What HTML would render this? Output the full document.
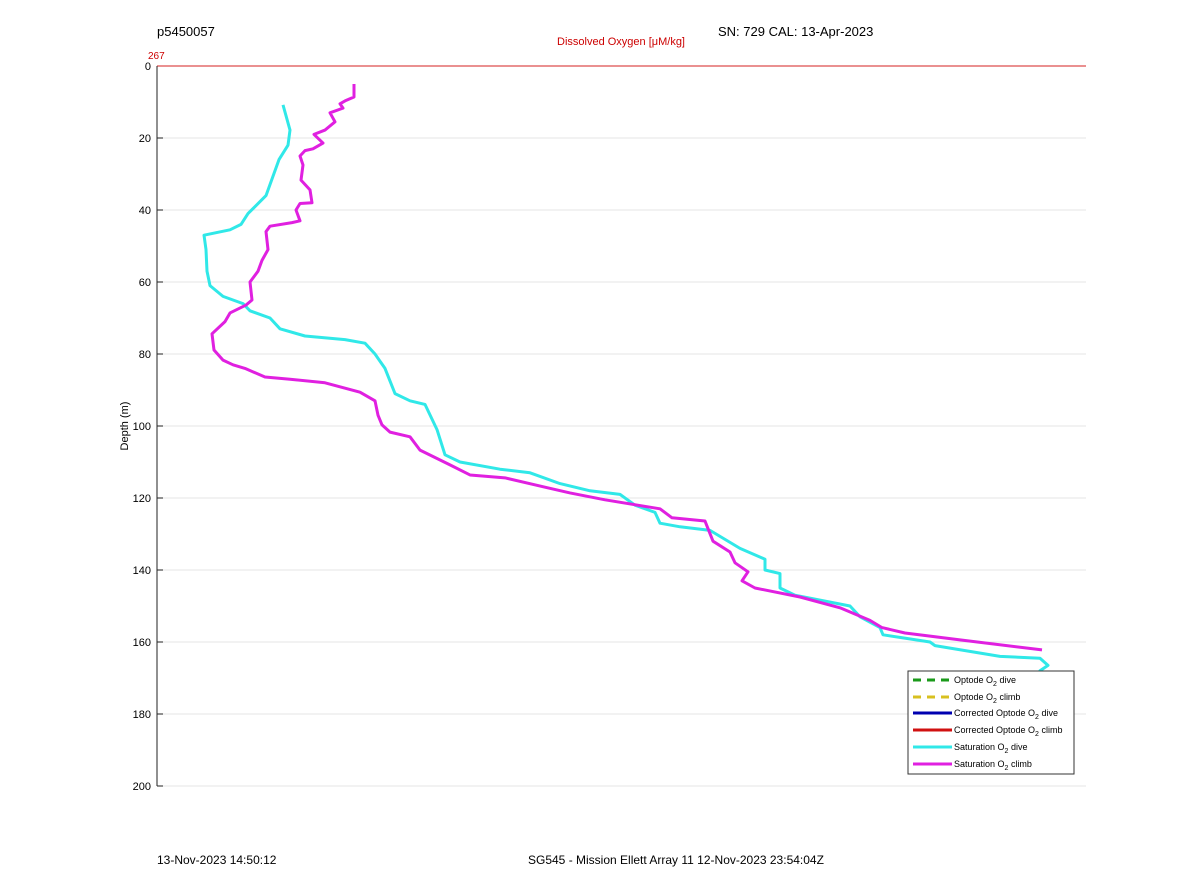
<!DOCTYPE html>
<html><head><meta charset="utf-8"><style>
body{margin:0;background:#fff;font-family:"Liberation Sans",sans-serif}
svg text{font-family:"Liberation Sans",sans-serif}
</style></head><body>
<svg id="chart" width="1200" height="885" viewBox="0 0 1200 885" xmlns="http://www.w3.org/2000/svg">
<rect width="1200" height="885" fill="#fff"/>
<text x="157" y="36" font-size="13">p5450057</text>
<text x="718" y="36" font-size="13">SN: 729  CAL: 13-Apr-2023</text>
<text x="621" y="45" font-size="11" fill="#c00" text-anchor="middle">Dissolved Oxygen [μM/kg]</text>
<text x="148" y="59" font-size="10" fill="#c00">267</text>
<g id="grid"></g>
<g id="yticks"></g>
<text x="128" y="426" font-size="11" text-anchor="middle" transform="rotate(-90 128 426)">Depth (m)</text>
<line x1="157" y1="66" x2="1086" y2="66" stroke="#d62020" stroke-width="1"/>
<line x1="157" y1="66" x2="157" y2="786" stroke="#222" stroke-width="1"/>
<g id="series"></g>
<g>
<rect x="908" y="671" width="166" height="103" fill="#fff" stroke="#333" stroke-width="1"/>
<line x1="913" y1="680" x2="952" y2="680" stroke="#1a9a1a" stroke-width="3" stroke-dasharray="8,6"/>
<text x="954" y="683" font-size="9">Optode O<tspan font-size="7" dy="3">2</tspan><tspan dy="-3"> dive</tspan></text>
<line x1="913" y1="697" x2="952" y2="697" stroke="#d8c020" stroke-width="3" stroke-dasharray="8,6"/>
<text x="954" y="700" font-size="9">Optode O<tspan font-size="7" dy="3">2</tspan><tspan dy="-3"> climb</tspan></text>
<line x1="913" y1="713" x2="952" y2="713" stroke="#0000b0" stroke-width="3"/>
<text x="954" y="716" font-size="9">Corrected Optode O<tspan font-size="7" dy="3">2</tspan><tspan dy="-3"> dive</tspan></text>
<line x1="913" y1="730" x2="952" y2="730" stroke="#d01010" stroke-width="3"/>
<text x="954" y="733" font-size="9">Corrected Optode O<tspan font-size="7" dy="3">2</tspan><tspan dy="-3"> climb</tspan></text>
<line x1="913" y1="747" x2="952" y2="747" stroke="#30e8e8" stroke-width="3"/>
<text x="954" y="750" font-size="9">Saturation O<tspan font-size="7" dy="3">2</tspan><tspan dy="-3"> dive</tspan></text>
<line x1="913" y1="764" x2="952" y2="764" stroke="#e020e0" stroke-width="3"/>
<text x="954" y="767" font-size="9">Saturation O<tspan font-size="7" dy="3">2</tspan><tspan dy="-3"> climb</tspan></text>
</g>
<text x="157" y="864" font-size="12">13-Nov-2023 14:50:12</text>
<text x="528" y="864" font-size="12">SG545 - Mission Ellett Array 11 12-Nov-2023 23:54:04Z</text>
</svg>
<script>
const yTicks=[0,20,40,60,80,100,120,140,160,180,200];
const diveO2=[126,133,131,122,109,91,84,73,47,49,50,53,66,86,93,113,123,148,188,208,218,228,238,253,268,280,288,303,343,373,403,433,463,478,498,503,523,553,583,608,608,623,623,638,693,703,723,726,773,778,843,883,891,883,895,896];
const diveDepth=[10.8,17.8,22,26,36,41,44,45.5,47,51,57,61,64,66,68,70,73,75,76,77,80,84,91,93,94,101,108,110,112,113,116,118,119,122,124,127,128,129,134,137,140,141,145,147,150,153,156,158,160,161,164,164.5,166.5,168,170,174];
const climbO2=[197,197,188,183,186,173,178,168,157,166,156,148,143,146,144,153,155,143,139,143,135,113,109,111,105,101,93,95,89,73,68,55,57,66,76,88,108,133,168,203,218,221,225,233,253,263,293,313,348,388,413,448,503,515,548,556,573,578,591,585,598,643,683,713,725,748,803,885];
const climbDepth=[5,8.6,9.7,10.5,11.7,13,15.5,17.8,19,21.4,23,23.5,25,27.5,31.7,34.4,38,38.2,40,43,43.5,44.5,46,51,54,57,60,65,66.4,68.6,71,74.4,78.9,81.7,83,84,86.4,87,88,90.6,93,97,99.7,101.7,103,106.7,110.8,113.6,114.4,117,118.6,120.5,123,125.5,126.4,132,135,138,140.5,143,145,147.5,150.5,154,156,157.5,159.4,162.2];
const X0=157,X1=1086,Y0=66,Y1=786,XMAX=929,DMAX=200;
const xs=v=>X0+v/XMAX*(X1-X0);
const ys=d=>Y0+d/DMAX*(Y1-Y0);
const NS='http://www.w3.org/2000/svg';
const grid=document.getElementById('grid'),yt=document.getElementById('yticks');
yTicks.forEach(t=>{
 const y=ys(t);
 if(t>0){const l=document.createElementNS(NS,'line');
 l.setAttribute('x1',X0);l.setAttribute('x2',X1);l.setAttribute('y1',y);l.setAttribute('y2',y);
 l.setAttribute('stroke','#e4e4e4');l.setAttribute('stroke-width','1');
 
 
 grid.appendChild(l);}
 const tk=document.createElementNS(NS,'line');
 tk.setAttribute('x1',X0);tk.setAttribute('x2',X0+6);tk.setAttribute('y1',y);tk.setAttribute('y2',y);tk.setAttribute('stroke','#222');
 
 
 yt.appendChild(tk);
 const tx=document.createElementNS(NS,'text');
 tx.setAttribute('x',X0-6);tx.setAttribute('y',y+4);tx.setAttribute('font-size','11');tx.setAttribute('text-anchor','end');
 tx.textContent=t;
 
 
 yt.appendChild(tx);
});
function line(xv,dv,color,name){
 const p=document.createElementNS(NS,'polyline');
 p.setAttribute('points',xv.map((v,i)=>xs(v)+','+ys(dv[i])).join(' '));
 p.setAttribute('fill','none');p.setAttribute('stroke',color);p.setAttribute('stroke-width','3');p.setAttribute('stroke-linejoin','round');
 
 
 document.getElementById('series').appendChild(p);
}
line(diveO2,diveDepth,'#30e8e8','saturation-o2-dive-line');
line(climbO2,climbDepth,'#e020e0','saturation-o2-climb-line');
</script>
</body></html>
